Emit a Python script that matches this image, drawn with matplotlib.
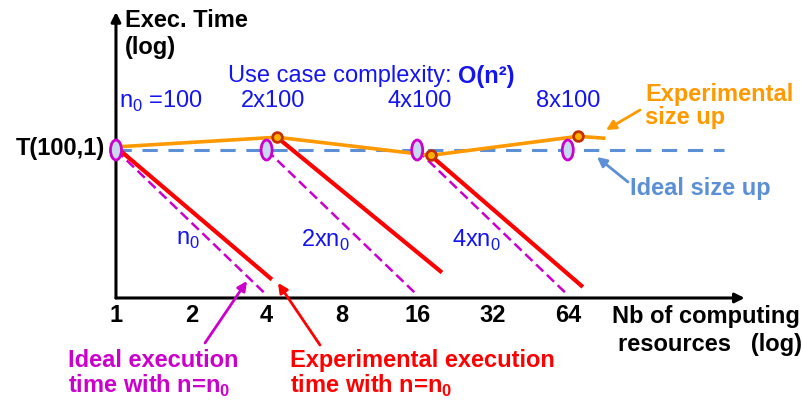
import numpy as np
import matplotlib
matplotlib.use("Agg")
import matplotlib.pyplot as plt
from matplotlib.patches import Ellipse

plt.rcParams['font.family'] = ['Liberation Sans', 'DejaVu Sans']
plt.rcParams['mathtext.fontset'] = 'custom'
plt.rcParams['mathtext.rm'] = 'Liberation Sans'

# resources (log2 axis) and execution times relative to T(100,1) (log2 axis)
ticks = [1, 2, 4, 8, 16, 32, 64]
sizes_label = [r'n$_\mathregular{0}$ =100', '2x100', '4x100', '8x100']
n_labels = [r'n$_\mathregular{0}$', r'2xn$_\mathregular{0}$', r'4xn$_\mathregular{0}$']

# ideal size up: same time when resources grow with size
ideal_res = [1, 4, 16, 64]
ideal_time = [1.0, 1.0, 1.0, 1.0]
ideal_line_res = [1, 270]

# experimental size up
exp_res = [1, 4.4, 18.1, 70.5, 89]
exp_time = [1.03, 1.13, 0.95, 1.14, 1.12]

# ideal execution time lines for fixed n (start, end)
ideal_exec = [((1, 1.0), (4, 0.25)),
              ((4, 1.0), (16, 0.25)),
              ((16, 1.0), (64, 0.25))]
# experimental execution time lines for fixed n (start, end)
exp_exec = [((1, 1.03), (4.2, 0.29)),
            ((4.4, 1.13), (20.1, 0.31)),
            ((18.1, 0.95), (73.5, 0.27))]

ORANGE = '#ff9900'
IDEAL_BLUE = '#5b8fd6'
BLUE = '#1414f0'
MAGENTA = '#cc00cc'
RED = '#ff0000'
FS = 17

fig = plt.figure(figsize=(8.02, 4.0), dpi=100)
ax = fig.add_axes([0, 0, 1, 1])
ax.set_xscale('log', base=2)
ax.set_yscale('log', base=2)
ax.set_xlim(2 ** -1.540, 2 ** 9.11)
ax.set_ylim(2 ** -3.448, 2 ** 2.069)
ax.axis('off')


def fx(px):
    return px / 802


def fy(py):
    return 1 - py / 400


# axes with arrows
y_axis0 = 0.243
ax.annotate('', xy=(326, y_axis0), xytext=(1, y_axis0),
            arrowprops=dict(arrowstyle='-|>', color='black', lw=2.2, mutation_scale=14,
                            shrinkA=0, shrinkB=0))
ax.annotate('', xy=(1, 3.74), xytext=(1, y_axis0),
            arrowprops=dict(arrowstyle='-|>', color='black', lw=2.2, mutation_scale=14,
                            shrinkA=0, shrinkB=0))

# ideal size up (dashed)
ax.plot(ideal_line_res, [1.0, 1.0], color=IDEAL_BLUE, lw=2.2, dashes=(5, 3.5), zorder=2)

# ideal execution time lines
for (x0, y0), (x1, y1) in ideal_exec:
    ax.plot([x0, x1], [y0, y1], color=MAGENTA, lw=1.8, dashes=(4, 2), zorder=2)

# experimental execution time lines
for (x0, y0), (x1, y1) in exp_exec:
    ax.plot([x0, x1], [y0, y1], color=RED, lw=3, zorder=3, solid_capstyle='butt')

# experimental size up
ax.plot(exp_res, exp_time, color=ORANGE, lw=2.6, zorder=4)
ax.plot(exp_res[1:4], exp_time[1:4], 'o', ms=7, mfc='#ffb000', mec='#c03000', mew=2, zorder=5)

# ideal points as ellipses (pixel sized, placed through the data transform)
fig.canvas.draw()
for r, t in zip(ideal_res, ideal_time):
    ax.add_artist(Ellipse(ax.transData.transform((r, t)), 11, 20, transform=None,
                          facecolor='#c6d9f0', edgecolor=MAGENTA, lw=2, zorder=4))

# tick labels
for r in ticks:
    ax.text(r, fy(316), str(r), transform=ax.get_xaxis_transform(), ha='center', va='center',
            fontsize=FS, fontweight='bold')

# size labels
for x, s in zip([119, 273, 420, 568], sizes_label):
    ax.text(fx(x), fy(101), s, transform=fig.transFigure, ha='left' if x == 119 else 'center',
            va='center', fontsize=FS, color=BLUE)
for x, s in zip([188, 325, 476], n_labels):
    ax.text(fx(x), fy(240), s, transform=fig.transFigure, ha='center', va='center',
            fontsize=FS, color=BLUE)

ax.text(fx(228), fy(76), 'Use case complexity: ', transform=fig.transFigure, ha='left',
        va='center', fontsize=FS, color=BLUE)
ax.text(fx(458), fy(76), 'O(n\u00b2)', transform=fig.transFigure, ha='left',
        va='center', fontsize=FS, color=BLUE, fontweight='bold')

ax.text(fx(125), fy(9), 'Exec. Time\n(log)', transform=fig.transFigure, ha='left', va='top',
        fontsize=FS, fontweight='bold', linespacing=1.2)
ax.text(fx(105), fy(148), 'T(100,1)', transform=fig.transFigure, ha='right', va='center',
        fontsize=FS, fontweight='bold')

ax.text(fx(645), fy(106), 'Experimental\nsize up', transform=fig.transFigure, ha='left',
        va='center', fontsize=FS, fontweight='bold', color=ORANGE, linespacing=1.05)
ax.text(fx(630), fy(188), 'Ideal size up', transform=fig.transFigure, ha='left',
        va='center', fontsize=FS, fontweight='bold', color=IDEAL_BLUE)

ax.text(fx(612), fy(316), 'Nb of computing', transform=fig.transFigure, ha='left',
        va='center', fontsize=FS, fontweight='bold')
ax.text(fx(618), fy(345), 'resources   (log)', transform=fig.transFigure, ha='left',
        va='center', fontsize=FS, fontweight='bold')

ax.text(fx(68), fy(374), 'Ideal execution\ntime with n=n$_\\mathregular{0}$',
        transform=fig.transFigure, ha='left', va='center', fontsize=FS, fontweight='bold',
        color=MAGENTA, linespacing=1.05)
ax.text(fx(290), fy(374), 'Experimental execution\ntime with n=n$_\\mathregular{0}$',
        transform=fig.transFigure, ha='left', va='center', fontsize=FS, fontweight='bold',
        color=RED, linespacing=1.05)

# pointer arrows
arrows = [((640, 110), (606, 130), ORANGE),
          ((628, 182), (597, 157), IDEAL_BLUE),
          ((205, 343), (247, 281), MAGENTA),
          ((320, 345), (278, 283), RED)]
for (x0, y0), (x1, y1), c in arrows:
    ax.annotate('', xy=(fx(x1), fy(y1)), xytext=(fx(x0), fy(y0)),
                xycoords='figure fraction', textcoords='figure fraction',
                arrowprops=dict(arrowstyle='-|>', color=c, lw=2, mutation_scale=14,
                                shrinkA=0, shrinkB=0))

fig.savefig('out.png', dpi=100)
